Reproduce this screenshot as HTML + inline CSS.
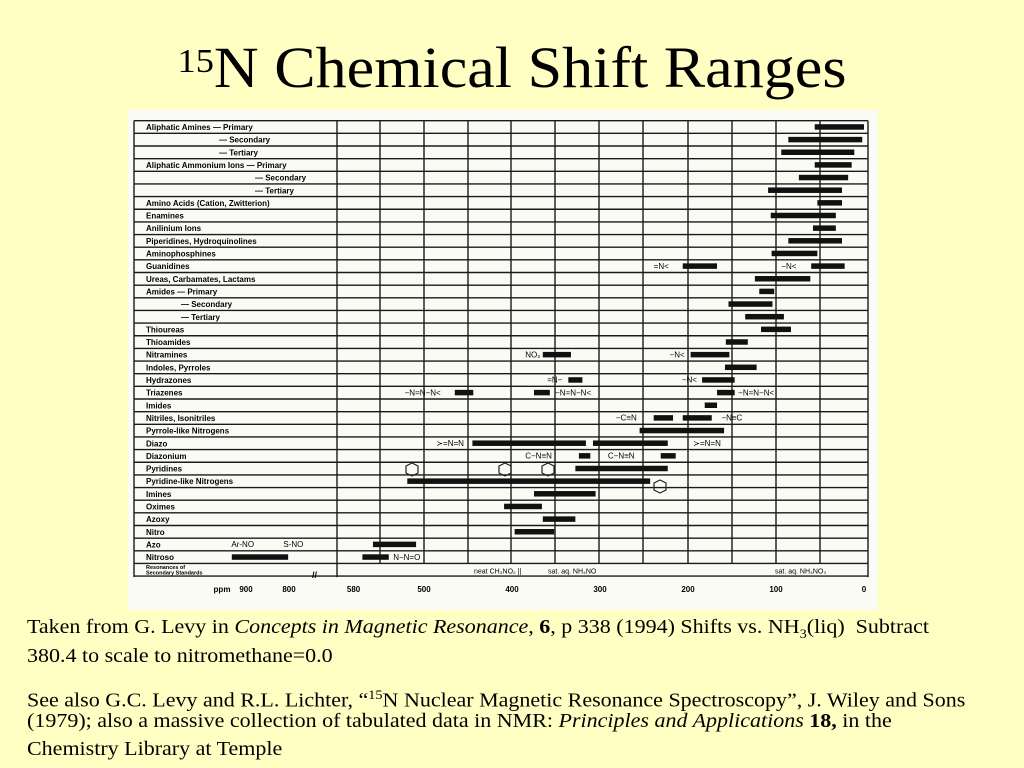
<!DOCTYPE html>
<html><head><meta charset="utf-8">
<style>
html,body{margin:0;padding:0;}
body{width:1024px;height:768px;background:#ffffc4;position:relative;overflow:hidden;font-family:"Liberation Serif",serif;}
#title{position:absolute;left:0;width:1024px;top:30px;text-align:center;font-size:58px;line-height:76px;color:#000;transform:scaleX(1.07);transform-origin:512px 0;}
#title sup{font-size:34px;vertical-align:top;position:relative;top:-6px;}
.cap{position:absolute;left:27px;font-size:20px;line-height:22px;white-space:nowrap;color:#000;transform:scaleX(1.1);transform-origin:0 0;}
#chart{position:absolute;left:128px;top:110px;}
</style></head>
<body>
<div id="title"><sup>15</sup>N Chemical Shift Ranges</div>
<svg id="chart" width="750" height="500" viewBox="128 110 750 500" xmlns="http://www.w3.org/2000/svg">
<rect x="128" y="110" width="750" height="500" fill="#fbfbf6"/>
<g id="grid"></g>
<g id="labels" font-family="Liberation Sans, sans-serif" font-size="8" font-weight="bold"></g>
<g id="bars"></g>
<g id="notes" font-family="Liberation Sans, sans-serif" font-size="8"></g>
<g id="axis" font-family="Liberation Sans, sans-serif" font-size="8" font-weight="bold"></g>
</svg>
<div class="cap" style="top:616px">Taken from G. Levy in <i>Concepts in Magnetic Resonance</i>, <b>6</b>, p 338 (1994) Shifts vs. NH<sub style="font-size:13px">3</sub>(liq)&nbsp; Subtract</div>
<div class="cap" style="top:645px">380.4 to scale to nitromethane=0.0</div>
<div class="cap" style="top:684px">See also G.C. Levy and R.L. Lichter, “<sup style="font-size:13px">15</sup>N Nuclear Magnetic Resonance Spectroscopy”, J. Wiley and Sons</div>
<div class="cap" style="top:710px">(1979); also a massive collection of tabulated data in NMR: <i>Principles and Applications</i> <b>18,</b> in the</div>
<div class="cap" style="top:738px">Chemistry Library at Temple</div>
<script>
const categories=["Aliphatic Amines — Primary","— Secondary","— Tertiary","Aliphatic Ammonium Ions — Primary","— Secondary","— Tertiary","Amino Acids (Cation, Zwitterion)","Enamines","Anilinium Ions","Piperidines, Hydroquinolines","Aminophosphines","Guanidines","Ureas, Carbamates, Lactams","Amides — Primary","— Secondary","— Tertiary","Thioureas","Thioamides","Nitramines","Indoles, Pyrroles","Hydrazones","Triazenes","Imides","Nitriles, Isonitriles","Pyrrole-like Nitrogens","Diazo","Diazonium","Pyridines","Pyridine-like Nitrogens","Imines","Oximes","Azoxy","Nitro","Azo","Nitroso"];
const labelIndent=[146,219,219,146,255,255,146,146,146,146,146,146,146,146,181,181,146,146,146,146,146,146,146,146,146,146,146,146,146,146,146,146,146,146,146];
const rangeRows=[0,1,2,3,4,5,6,7,8,9,10,11,11,12,13,14,15,16,17,18,18,19,20,20,21,21,21,22,23,23,24,25,25,26,26,27,28,29,30,31,32,33,34,34];
const rangeHigh=[56,86,94,56,74,109,53,106,58,86,105,206,60,124,119,154,135,117,157,365,197,158,336,184,465,375,167,181,239,206,255,445,308,324,231,328,519,375,409,365,397,558,933,570];
const rangeLow=[0,2,11,14,18,25,25,32,32,25,53,167,22,61,102,104,91,83,132,333,153,122,320,147,444,357,147,167,217,173,159,316,223,311,214,223,243,305,366,328,352,509,802,540];
const noteRows=[11,11,18,18,20,20,21,21,21,23,23,25,25,26,26,33,33,34];
const notePpm=[239,94,385,221,360,207,522,351,143,282,162,486,194,385,291,934,813,535];
const noteText=["=N<","−N<","NO₂","−N<","=N−","−N<","−N=N−N<","−N=N−N<","−N=N−N<","−C≡N","−N≡C","≻=N=N","≻=N=N","C−N≡N","C−N≡N","Ar-NO","S-NO","N−N=O"];
const tickValues=[0,100,200,300,400,500,580,800,900];
const tickText=["0","100","200","300","400","500","580","800","900"];
const NS="http://www.w3.org/2000/svg";
const L=134,R=868,T=120.7,RH=12.65,X0=864,PX=0.88;
function xs(p){ if(p<=600) return X0-p*PX; if(p<700) return 336; return 289-(p-800)*0.43; }
function ys(i){return T+i*RH;}
function mk(tag,attrs,parent){const e=document.createElementNS(NS,tag);for(const k in attrs)e.setAttribute(k,attrs[k]);parent.appendChild(e);return e;}
const grid=document.getElementById('grid'),labels=document.getElementById('labels'),bars=document.getElementById('bars'),notes=document.getElementById('notes'),axis=document.getElementById('axis');
const nRows=categories.length+1, B=ys(nRows)+1;
for(let i=0;i<=nRows;i++){
  const ln=mk('line',{x1:L,x2:R,y1:ys(i),y2:ys(i),stroke:'#1a1a1a','stroke-width':1.4},grid);
  
  
}
const vx=[L,337,380,424,468,511,555,599,643,688,732,776,820,R];
vx.forEach(x=>{
  const ln=mk('line',{x1:x,x2:x,y1:T,y2:(x===L||x===R||x===337)?B:ys(nRows-1),stroke:'#1a1a1a','stroke-width':1.4},grid);
  
  
});
categories.forEach((c,i)=>{
  const t=mk('text',{x:labelIndent[i],y:ys(i)+9.3},labels);
  t.textContent=c;
  
  
});
const rl=mk('text',{x:146,y:ys(35)+5.5,'font-size':5.5},labels);
rl.textContent="Resonances of";


const rl2=mk('text',{x:146,y:ys(35)+11,'font-size':5.5},labels);
rl2.textContent="Secondary Standards";


for(let k=0;k<rangeRows.length;k++){
  const x1=xs(rangeHigh[k]),x2=xs(rangeLow[k]);
  const r=mk('rect',{x:x1,y:ys(rangeRows[k])+3.5,width:x2-x1,height:5.5,fill:'#111'},bars);
  
  
}
for(let k=0;k<noteRows.length;k++){
  const t=mk('text',{x:xs(notePpm[k]),y:ys(noteRows[k])+9},notes);
  t.textContent=noteText[k];
  
  
}
[[412,469],[505,469],[548,469],[660,486]].forEach(p=>{
  const h=mk('polygon',{points:`${p[0]},${p[1]-6} ${p[0]+6},${p[1]-3} ${p[0]+6},${p[1]+4} ${p[0]},${p[1]+7} ${p[0]-6},${p[1]+4} ${p[0]-6},${p[1]-3}`,fill:'none',stroke:'#222','stroke-width':1.2},notes);
  
  
});
[["neat CH₃NO₂ ||",474],["sat. aq. NH₄NO",548],["sat. aq. NH₄NO₃",775]].forEach(s=>{
  const t=mk('text',{x:s[1],y:ys(35)+10,'font-size':7},notes);
  t.textContent=s[0];
  
  
});
tickValues.forEach((v,i)=>{
  const t=mk('text',{x:xs(v),y:592,'text-anchor':'middle'},axis);
  t.textContent=tickText[i];
  
  
});
const pu=mk('text',{x:222,y:592,'text-anchor':'middle'},axis);
pu.textContent="ppm";


const br=mk('text',{x:312,y:578,'font-size':9},axis);
br.textContent="//";


</script>
</body></html>
